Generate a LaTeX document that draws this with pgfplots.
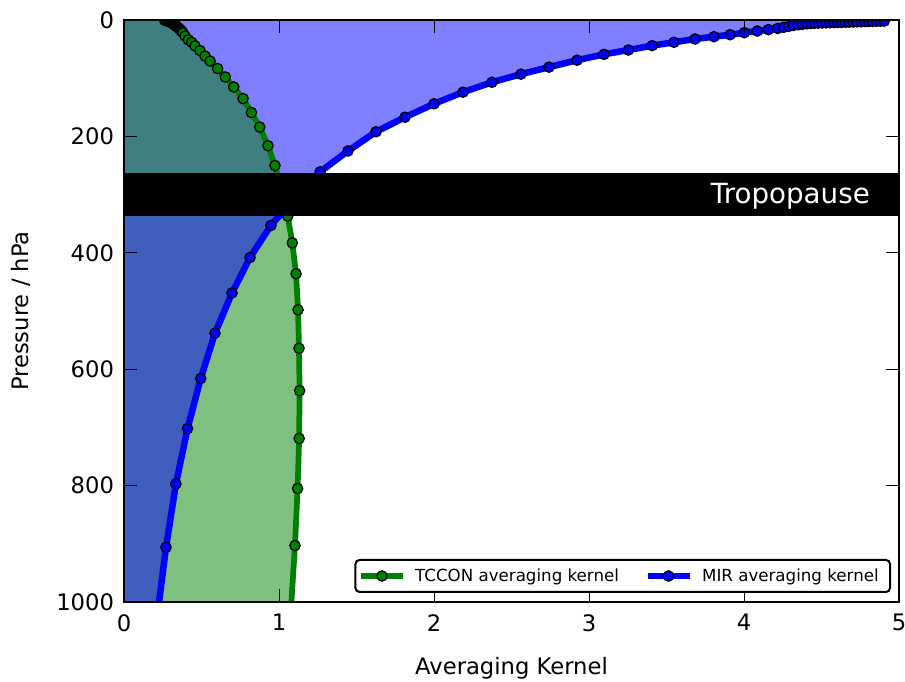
\documentclass[border=0pt]{standalone}
\usepackage{pgfplots}
\usepackage{pgfplotstable}
\pgfplotsset{compat=1.18}
\usepackage{fontspec}
\setmainfont{DejaVu Sans}

\definecolor{mplgreen}{HTML}{008000}
\definecolor{mplblue}{HTML}{0000FF}

% TCCON column averaging kernel (ak) against pressure (hPa)
\pgfplotstableread{
ak     p
0.262  0.5
0.276  1.5
0.288  2.6
0.298  3.7
0.306  4.8
0.313  5.9
0.320  7.0
0.326  8.2
0.332  9.4
0.338  10.7
0.344  12.0
0.350  13.4
0.356  14.9
0.362  16.5
0.368  18.2
0.374  20.0
0.381  22.2
0.394  27.5
0.415  34.0
0.437  38.5
0.458  44.5
0.490  52.5
0.523  62.0
0.555  70.5
0.604  83.5
0.654  98.0
0.708  115.0
0.768  135.0
0.822  159.0
0.876  184.0
0.929  216.0
0.974  250.0
1.020  300.0
1.056  337.0
1.086  383.0
1.110  436.0
1.123  498.0
1.129  564.0
1.133  637.0
1.130  719.0
1.120  805.0
1.103  903.0
1.077  1013.0
}\tccon

% MIR averaging kernel against pressure (hPa)
\pgfplotstableread{
ak     p
0.220  1013.0
0.271  906.0
0.335  797.0
0.410  702.0
0.495  616.0
0.587  538.0
0.697  469.0
0.813  408.0
0.948  353.0
1.120  300.0
1.265  261.0
1.445  225.0
1.626  192.0
1.813  167.0
2.000  144.0
2.187  124.0
2.374  107.0
2.561  93.0
2.742  81.0
2.923  69.0
3.097  59.0
3.254  51.5
3.408  44.0
3.548  38.3
3.684  32.6
3.806  28.7
3.910  25.3
4.002  21.8
4.086  18.9
4.157  16.5
4.217  14.5
4.257  12.5
4.290  10.8
4.320  9.3
4.350  8.2
4.378  7.3
4.405  6.6
4.430  6.0
4.455  5.6
4.480  5.3
4.505  5.0
4.530  4.8
4.555  4.6
4.580  4.4
4.605  4.2
4.630  4.0
4.655  3.8
4.680  3.6
4.705  3.4
4.730  3.2
4.755  3.0
4.780  2.8
4.805  2.6
4.830  2.4
4.855  2.2
4.880  2.0
4.905  1.8
}\mir

\begin{document}
\begin{tikzpicture}
\begin{axis}[
  scale only axis,
  width=581.25pt, height=436.5pt,
  xmin=0, xmax=5, ymin=0, ymax=1000,
  y dir=reverse,
  xtick={0,1,2,3,4,5},
  ytick={0,200,400,600,800,1000},
  tick align=inside,
  major tick length=9.75pt,
  tick style={black, line width=0.75pt},
  axis line style={black, line width=1pt},
  axis on top,
  clip marker paths=true,
  /pgf/number format/assume math mode=true,
  /pgf/number format/1000 sep={},
  ticklabel style={font=\fontsize{17}{20}\selectfont},
  xticklabel style={yshift=-5.6pt},
  yticklabel style={xshift=-4pt},
  xlabel={Averaging Kernel},
  ylabel={Pressure / hPa},
  label style={font=\fontsize{17}{20}\selectfont},
  xlabel style={at={(rel axis cs:0.5,-0.1237)}, anchor=base},
  ylabel style={at={(rel axis cs:-0.1226,0.5)}, anchor=base},
  legend columns=2,
  legend cell align=left,
  legend style={
    at={(rel axis cs:0.9897,0.0155)}, anchor=south east,
    draw=black, line width=1.5pt, rounded corners=3pt,
    font=\fontsize{12.5}{14}\selectfont,
    inner xsep=2pt, inner ysep=4.5pt,
    /tikz/every odd column/.append style={column sep=5pt},
  },
  legend image code/.code={
    \draw[mark repeat=2, mark phase=2, #1]
      plot coordinates {(0pt,0pt) (15.75pt,0pt) (31.5pt,0pt)};
  },
]

% shaded kernels, stratosphere: MIR below TCCON
\addplot[draw=none, fill=mplblue, fill opacity=0.5, forget plot,
  restrict y to domain=0:300]
  table[x=ak, y=p] {\mir} -- (axis cs:0,0) -- (axis cs:0,300) -- cycle;
\addplot[draw=none, fill=mplgreen, fill opacity=0.5, forget plot,
  restrict y to domain=0:300]
  table[x=ak, y=p] {\tccon} -- (axis cs:0,300) -- (axis cs:0,0) -- cycle;

% shaded kernels, troposphere: TCCON below MIR
\addplot[draw=none, fill=mplgreen, fill opacity=0.5, forget plot,
  restrict y to domain=300:1100]
  table[x=ak, y=p] {\tccon} -- (axis cs:0,1013) -- (axis cs:0,300) -- cycle;
\addplot[draw=none, fill=mplblue, fill opacity=0.5, forget plot,
  restrict y to domain=300:1100]
  table[x=ak, y=p] {\mir} -- (axis cs:0,300) -- (axis cs:0,1013) -- cycle;

% kernel profiles
\addplot[mplgreen, line width=4.3pt, mark=*, mark size=3.9pt,
  mark options={solid, fill=mplgreen, draw=black, line width=0.9pt}]
  table[x=ak, y=p] {\tccon};
\addlegendentry{TCCON averaging kernel\hspace*{17pt}}

\addplot[mplblue, line width=4.9pt, mark=*, mark size=3.9pt,
  mark options={solid, fill=mplblue, draw=black, line width=0.9pt}]
  table[x=ak, y=p] {\mir};
\addlegendentry{MIR averaging kernel\hspace*{4.5pt}}

% tropopause band
\fill[black] (axis cs:0,262.5) rectangle (axis cs:5,337.5);
\node[anchor=base east, inner sep=0pt, text=white,
  font=\fontsize{20.8}{24}\selectfont] at (axis cs:4.813,316) {Tropopause};

\end{axis}
\pgfresetboundingbox
\path[use as bounding box]
  ([shift={(-93pt,-59.25pt)}]current axis.south west)
  rectangle ([shift={(4.5pt,15pt)}]current axis.north east);
\end{tikzpicture}
\end{document}
